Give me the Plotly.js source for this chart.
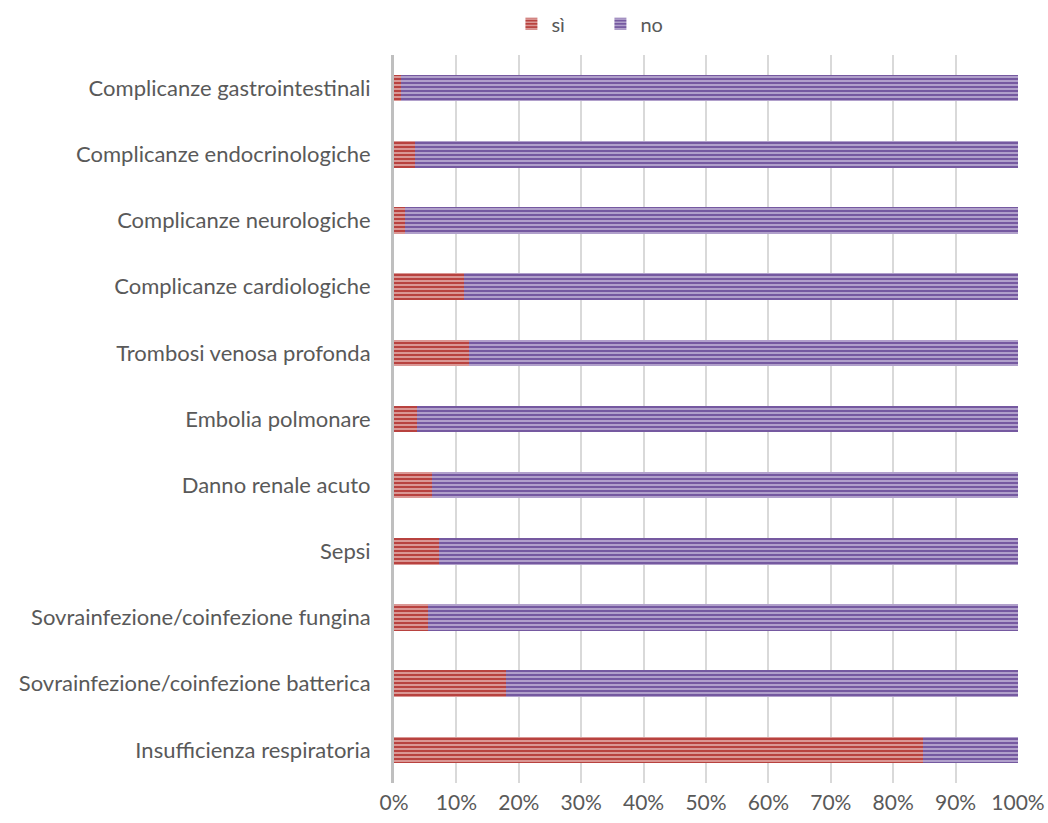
<!DOCTYPE html>
<html>
<head>
<meta charset="utf-8">
<script src="https://cdn.plot.ly/plotly-3.0.1.min.js"></script>
<style>html,body{margin:0;padding:0;background:#fff;}#chart{width:1048px;height:823px;}</style>
</head>
<body>
<div id="chart"></div>
<script>
const categories = [
  "Insufficienza respiratoria",
  "Sovrainfezione/coinfezione batterica",
  "Sovrainfezione/coinfezione fungina",
  "Sepsi",
  "Danno renale acuto",
  "Embolia polmonare",
  "Trombosi venosa profonda",
  "Complicanze cardiologiche",
  "Complicanze neurologiche",
  "Complicanze endocrinologiche",
  "Complicanze gastrointestinali"
];
const siValues = [84.8, 18.0, 5.5, 7.2, 6.1, 3.7, 12.0, 11.2, 1.8, 3.3, 1.1];
const noValues = [15.2, 82.0, 94.5, 92.8, 93.9, 96.3, 88.0, 88.8, 98.2, 96.7, 98.9];

const traces = [
  {
    type: "bar", orientation: "h", name: "sì",
    y: categories, x: siValues,
    marker: {color: "#c0504d", line: {width: 0},
      pattern: {shape: "-", fgcolor: "#f2d0ce", bgcolor: "#b8423f", size: 4, solidity: 0.3}},
    hoverinfo: "x+y"
  },
  {
    type: "bar", orientation: "h", name: "no",
    y: categories, x: noValues,
    marker: {color: "#8064a2", line: {width: 0},
      pattern: {shape: "-", fgcolor: "#d9d0e8", bgcolor: "#7559a0", size: 4, solidity: 0.3}},
    hoverinfo: "x+y"
  }
];

const layout = {
  width: 1048, height: 823,
  margin: {l: 394, r: 30, t: 55, b: 40, autoexpand: false},
  barmode: "stack",
  bargap: 0.6,
  paper_bgcolor: "#ffffff",
  plot_bgcolor: "#ffffff",
  font: {family: "Lato, 'Open Sans', sans-serif", size: 20, color: "#595959"},
  showlegend: true,
  legend: {orientation: "h", xref: "container", yref: "container", x: 0.488, xanchor: "left",
    y: 0.971, yanchor: "middle",
    font: {size: 20, color: "#595959"}, traceorder: "normal", entrywidth: 44},
  xaxis: {range: [0, 100], dtick: 10, ticksuffix: "%", showgrid: true, gridcolor: "#d9d9d9",
    gridwidth: 2, zeroline: false, showline: false, ticks: "", tickfont: {size: 21, color: "#595959"},
    ticklabelstandoff: 5, automargin: false, fixedrange: true},
  yaxis: {type: "category", categoryorder: "array", categoryarray: categories,
    showline: true, linecolor: "#bfbfbf", linewidth: 3, ticks: "outside", ticklen: 16,
    tickcolor: "rgba(0,0,0,0)", showgrid: false, tickfont: {size: 22, color: "#595959"},
    automargin: false, fixedrange: true}
};

Plotly.newPlot("chart", traces, layout, {displayModeBar: false, staticPlot: true});
</script>
</body>
</html>
